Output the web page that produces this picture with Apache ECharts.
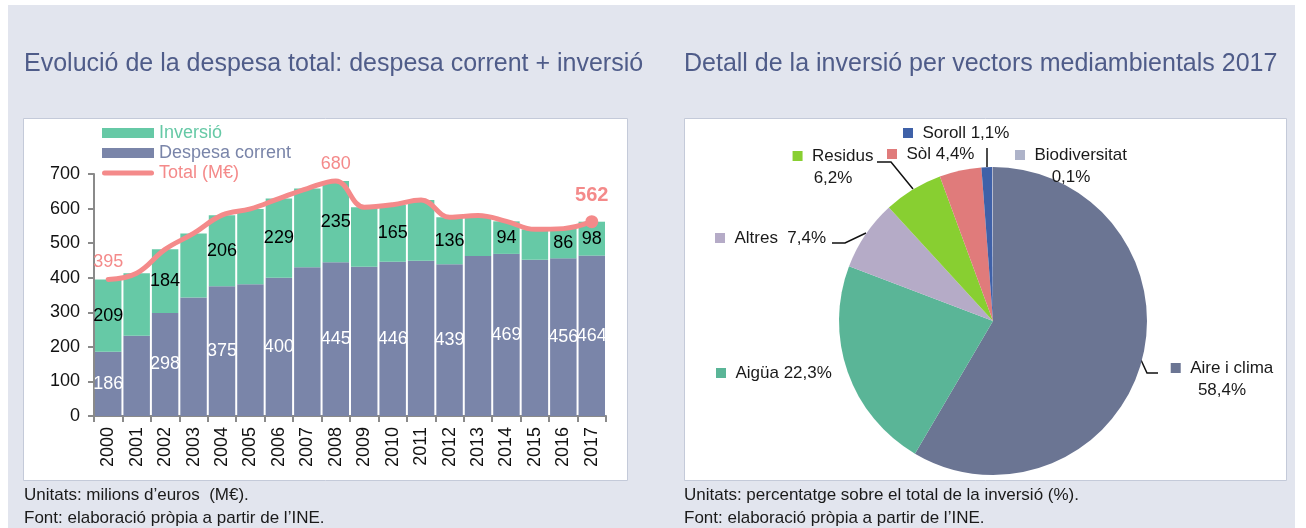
<!DOCTYPE html>
<html>
<head>
<meta charset="utf-8">
<script src="https://cdn.jsdelivr.net/npm/echarts@6/dist/echarts.min.js"></script>
<style>
  html, body { margin: 0; padding: 0; background: #ffffff; }
  #chart { width: 1306px; height: 528px; }
</style>
</head>
<body>
<div id="chart"></div>
<script>
  // evolucio de la despesa (M€)
  var years = ['2000', '2001', '2002', '2003', '2004', '2005', '2006', '2007', '2008',
    '2009', '2010', '2011', '2012', '2013', '2014', '2015', '2016', '2017']
  var despesaCorrent = [186, 232, 298, 343, 375, 381, 400, 430, 445, 432, 446, 449, 439, 463, 469, 452, 456, 464]
  var inversio = [209, 181, 184, 185, 206, 218, 229, 228, 235, 172, 165, 176, 136, 117, 94, 88, 86, 98]
  var total = [395, 413, 482, 528, 581, 599, 629, 658, 680, 604, 611, 625, 575, 580, 563, 540, 542, 562]
  var labelYears = ['2000', '2002', '2004', '2006', '2008', '2010', '2012', '2014', '2016', '2017']
  var totalLabelYears = ['2000', '2008', '2017']

  // inversio per vectors 2017 (%)
  var vectors = ['Aire i clima', 'Aigüa', 'Altres', 'Residus', 'Sòl', 'Soroll', 'Biodiversitat']
  var shares = [58.4, 22.3, 7.4, 6.2, 4.4, 1.1, 0.1]

  var FONT = '"Liberation Sans", Arial, sans-serif'
  var cGreen = '#66c9a6'
  var cPurple = '#7a85a9'
  var cSalmon = '#f48a8a'
  var cTitle = '#4f5c89'
  var pieColors = ['#6b7593', '#5ab597', '#b5abc7', '#88cf31', '#e07b7b', '#3f61a8', '#aeb3c9']

  // label placement for the pie (positions only)
  var pieLabelPos = [
    {x: 1222, y: 379, align: 'center', wrap: true, line: [[1141, 360], [1147, 373], [1158, 373]]},
    {x: 716, y: 373, align: 'left'},
    {x: 715, y: 238, align: 'left', gap: '  ', line: [[866, 233], [845, 243], [832, 243]]},
    {x: 833, y: 167, align: 'center', wrap: true, line: [[913, 189], [891, 162], [877, 162]]},
    {x: 887, y: 154, align: 'left'},
    {x: 903, y: 133, align: 'left', line: [[987, 167], [987, 148]]},
    {x: 1071, y: 166, align: 'center', wrap: true}
  ]

  function pct (v) {
    return v.toFixed(1).replace('.', ',') + '%'
  }

  var corrData = despesaCorrent.map(function (v, i) {
    return {value: v, label: {show: labelYears.indexOf(years[i]) >= 0}}
  })
  var invData = inversio.map(function (v, i) {
    return {value: v, label: {show: labelYears.indexOf(years[i]) >= 0}}
  })
  var totalData = total.map(function (v, i) {
    var item = {value: v, symbolSize: 0, label: {show: totalLabelYears.indexOf(years[i]) >= 0}}
    if (i === total.length - 1) {
      item.symbolSize = 13
      item.label.fontWeight = 'bold'
      item.label.fontSize = 20
      item.label.distance = 10
    }
    return item
  })

  var pieRich = {}
  var pieData = vectors.map(function (name, i) {
    pieRich['sq' + i] = {width: 10, height: 10, backgroundColor: pieColors[i]}
    var pos = pieLabelPos[i]
    return {
      name: name,
      value: shares[i],
      itemStyle: {color: pieColors[i]},
      labelLine: {show: !!pos.line}
    }
  })

  var chart = echarts.init(document.getElementById('chart'))
  var option = {
    animation: false,
    textStyle: {fontFamily: FONT},
    graphic: [
      {type: 'rect', z: -10, shape: {x: 8, y: 5, width: 1287, height: 523}, style: {fill: '#e2e5ee'}},
      {type: 'rect', z: -9, shape: {x: 23.5, y: 118.5, width: 604, height: 362}, style: {fill: '#ffffff', stroke: '#c4cad9', lineWidth: 1}},
      {type: 'rect', z: -9, shape: {x: 684.5, y: 118.5, width: 602, height: 362}, style: {fill: '#ffffff', stroke: '#c4cad9', lineWidth: 1}},
      {type: 'text', z: 5, style: {text: 'Evolució de la despesa total: despesa corrent + inversió', x: 24, y: 64, textVerticalAlign: 'middle', font: '25px ' + FONT, fill: cTitle}},
      {type: 'text', z: 5, style: {text: 'Detall de la inversió per vectors mediambientals 2017', x: 684, y: 64, textVerticalAlign: 'middle', font: '25px ' + FONT, fill: cTitle}},
      {type: 'text', z: 5, style: {text: 'Unitats: milions d’euros  (M€).', x: 24, y: 495, textVerticalAlign: 'middle', font: '17px ' + FONT, fill: '#1a1a1a'}},
      {type: 'text', z: 5, style: {text: 'Font: elaboració pròpia a partir de l’INE.', x: 24, y: 518, textVerticalAlign: 'middle', font: '17px ' + FONT, fill: '#1a1a1a'}},
      {type: 'text', z: 5, style: {text: 'Unitats: percentatge sobre el total de la inversió (%).', x: 684, y: 495, textVerticalAlign: 'middle', font: '17px ' + FONT, fill: '#1a1a1a'}},
      {type: 'text', z: 5, style: {text: 'Font: elaboració pròpia a partir de l’INE.', x: 684, y: 518, textVerticalAlign: 'middle', font: '17px ' + FONT, fill: '#1a1a1a'}}
    ],
    legend: {
      orient: 'vertical',
      left: 97,
      top: 119,
      itemWidth: 52,
      itemHeight: 10,
      itemGap: 2,
      symbolKeepAspect: true,
      textStyle: {fontSize: 18, fontFamily: FONT},
      data: [
        {name: 'Inversió', icon: 'rect', textStyle: {color: cGreen}},
        {name: 'Despesa corrent', icon: 'rect', textStyle: {color: cPurple}},
        {name: 'Total (M€)', icon: 'path://M2.5,0 L49.5,0 A2.5,2.5 0 0 1 49.5,5 L2.5,5 A2.5,2.5 0 0 1 2.5,0 Z', itemStyle: {color: cSalmon}, textStyle: {color: cSalmon}}
      ]
    },
    grid: {left: 94, top: 174, width: 512, height: 242, containLabel: false},
    xAxis: {
      type: 'category',
      data: years,
      axisLine: {lineStyle: {color: '#8a8a8a', width: 2}},
      axisTick: {show: true, length: 6, lineStyle: {color: '#8a8a8a', width: 2}},
      axisLabel: {rotate: 90, fontSize: 18, color: '#111', margin: 11, fontFamily: FONT}
    },
    yAxis: {
      type: 'value',
      min: 0,
      max: 700,
      interval: 100,
      axisLine: {show: true, lineStyle: {color: '#8a8a8a', width: 2}},
      axisTick: {show: true, length: 6, lineStyle: {color: '#8a8a8a', width: 2}},
      splitLine: {show: false},
      axisLabel: {fontSize: 18, color: '#111', margin: 14, fontFamily: FONT}
    },
    series: [
      {
        name: 'Despesa corrent',
        type: 'bar',
        stack: 'despesa',
        barCategoryGap: '7%',
        itemStyle: {color: cPurple},
        label: {position: 'inside', color: '#ffffff', fontSize: 18, fontFamily: FONT},
        data: corrData
      },
      {
        name: 'Inversió',
        type: 'bar',
        stack: 'despesa',
        barCategoryGap: '7%',
        itemStyle: {color: cGreen},
        label: {position: 'inside', color: '#000000', fontSize: 18, fontFamily: FONT},
        data: invData
      },
      {
        name: 'Total (M€)',
        type: 'line',
        smooth: 0.4,
        symbol: 'circle',
        showSymbol: true,
        showAllSymbol: true,
        z: 5,
        itemStyle: {color: cSalmon},
        lineStyle: {color: cSalmon, width: 5, cap: 'round'},
        label: {position: 'top', distance: 8, color: cSalmon, fontSize: 18, fontFamily: FONT},
        labelLayout: {hideOverlap: false},
        data: totalData
      },
      {
        name: 'Inversió per vectors',
        type: 'pie',
        center: [993, 321],
        radius: 154,
        startAngle: 90,
        clockwise: true,
        avoidLabelOverlap: false,
        emphasis: {disabled: true},
        label: {
          show: true,
          position: 'outside',
          fontSize: 17,
          lineHeight: 22,
          color: '#1a1a1a',
          fontFamily: FONT,
          rich: pieRich,
          formatter: function (p) {
            var pos = pieLabelPos[p.dataIndex]
            var sep = pos.wrap ? '\n' : (pos.gap || ' ')
            return '{sq' + p.dataIndex + '| }  ' + p.name + sep + pct(p.value)
          }
        },
        labelLine: {show: true, lineStyle: {color: '#111', width: 1.5}},
        labelLayout: function (params) {
          var pos = pieLabelPos[params.dataIndex]
          var out = {x: pos.x, y: pos.y, align: pos.align, verticalAlign: 'middle', hideOverlap: false, moveOverlap: false}
          if (pos.line) out.labelLinePoints = pos.line
          return out
        },
        data: pieData
      }
    ]
  }
  chart.setOption(option)
</script>
</body>
</html>
